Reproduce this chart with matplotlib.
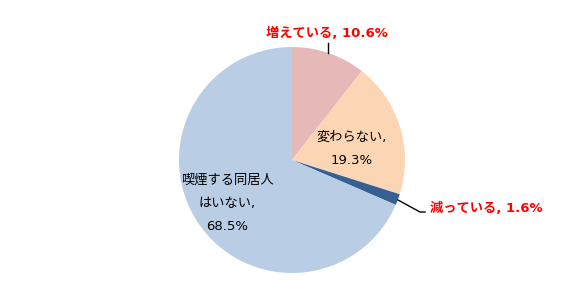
import matplotlib
matplotlib.use("Agg")
import matplotlib.pyplot as plt

plt.rcParams['font.family'] = ['DejaVu Sans', 'Noto Sans CJK JP']

categories = ["増えている", "変わらない", "減っている", "喫煙する同居人\nはいない"]
values = [10.6, 19.3, 1.6, 68.5]
colors = ["#E6B9B8", "#FCD5B5", "#376092", "#B9CDE5"]

fig = plt.figure(figsize=(5.88, 3.00), dpi=100)
cx, cy, r = 292, 160, 113
ax = fig.add_axes([(cx - r) / 588, (300 - cy - r) / 300, 2 * r / 588, 2 * r / 300])
ax.pie(values, colors=colors, startangle=90, counterclock=False, radius=1,
       wedgeprops=dict(linewidth=0))
ax.set_xlim(-1, 1)
ax.set_ylim(-1, 1)
ax.set_aspect('equal', adjustable='box')
ax.axis('off')

def d(px, py):
    return ((px - cx) / r, (cy - py) / r)

fs_red = 9.5
fs_blk = 9.5

# 増えている
x, y = d(327, 33)
ax.text(x, y, f"{categories[0]}, {values[0]}%", color="#FF0000", fontsize=fs_red,
        fontweight='bold', ha='center', va='center', clip_on=False)
p1 = d(328, 43); p2 = d(328, 53)
ax.plot([p1[0], p2[0]], [p1[1], p2[1]], color='black', lw=1, clip_on=False)

# 変わらない
x, y = d(352, 137)
ax.text(x, y, f"{categories[1]},", color="black", fontsize=fs_blk, ha='center', va='center')
x, y = d(352, 160)
ax.text(x, y, f"{values[1]}%", color="black", fontsize=fs_blk, ha='center', va='center')

# 減っている
x, y = d(430, 208)
ax.text(x, y, f"{categories[2]}, {values[2]}%", color="#FF0000", fontsize=fs_red,
        fontweight='bold', ha='left', va='center', clip_on=False)
pa = d(398, 200); pb = d(420, 212); pc = d(425, 212)
ax.plot([pa[0], pb[0], pc[0]], [pa[1], pb[1], pc[1]], color='black', lw=1, clip_on=False)

# 喫煙する同居人はいない
lines = categories[3].split("\n")
x, y = d(227, 180)
ax.text(x, y, lines[0], color="black", fontsize=fs_blk, ha='center', va='center')
x, y = d(227, 203)
ax.text(x, y, lines[1] + ",", color="black", fontsize=fs_blk, ha='center', va='center')
x, y = d(227, 226)
ax.text(x, y, f"{values[3]}%", color="black", fontsize=fs_blk, ha='center', va='center')

fig.savefig("out.png", dpi=100)
